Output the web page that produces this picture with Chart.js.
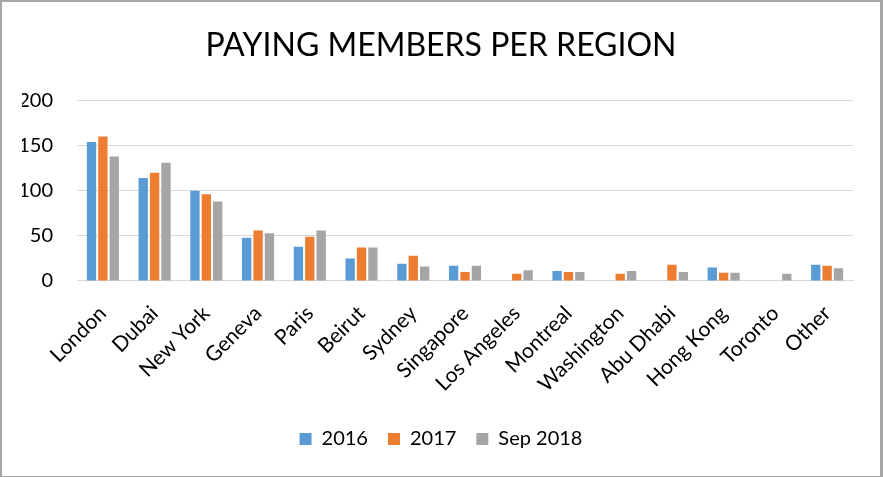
<!DOCTYPE html>
<html>
<head>
<meta charset="utf-8">
<script src="https://cdn.jsdelivr.net/npm/chart.js@4"></script>
<style>
  html, body { margin: 0; padding: 0; background: #fff; }
  .wrap {
    position: relative; width: 883px; height: 477px; box-sizing: border-box;
    border-style: solid; border-color: #a6a6a6; border-width: 2px 3px 1px 2px;
  }
  canvas { display: block; }
</style>
</head>
<body>
<div class="wrap"><canvas id="chart"></canvas></div>
<script>
// ===== Paying members per region =====
const REGIONS = ["London", "Dubai", "New York", "Geneva", "Paris", "Beirut", "Sydney",
  "Singapore", "Los Angeles", "Montreal", "Washington", "Abu Dhabi", "Hong Kong", "Toronto", "Other"];
const Y2016 = [154, 114, 100, 48, 38, 25, 19, 17, null, 11, null, null, 15, null, 18];
const Y2017 = [160, 120, 96, 56, 49, 37, 28, 10, 8, 10, 8, 18, 9, null, 17];
const SEP2018 = [138, 131, 88, 53, 56, 37, 16, 17, 12, 10, 11, 10, 9, 8, 14];
const Y_TICKS = [0, 50, 100, 150, 200];

const BLUE = "#5b9bd5", ORANGE = "#ed7d31", GRAY = "#a5a5a5", GRID = "#d9d9d9", TXT = "#000";
const FONT = "Lato, 'Open Sans', sans-serif";

Chart.defaults.font.family = FONT;
Chart.defaults.color = TXT;

const ds = (label, data, color) => ({
  label, data, backgroundColor: color, borderWidth: 0,
  categoryPercentage: 0.66, barPercentage: 0.82
});

new Chart(document.getElementById("chart"), {
  type: "bar",
  data: {
    labels: REGIONS,
    datasets: [ds("2016", Y2016, BLUE), ds("2017", Y2017, ORANGE), ds("Sep 2018", SEP2018, GRAY)]
  },
  options: {
    responsive: true, maintainAspectRatio: false, animation: false,
    layout: { padding: { left: 20, right: 20, top: 14, bottom: 17 } },
    plugins: {
      title: {
        display: true, text: "PAYING MEMBERS PER REGION", color: TXT,
        font: { size: 32, weight: "normal" }, padding: { top: 10, bottom: 36 }
      },
      legend: {
        position: "bottom",
        labels: { boxWidth: 12, boxHeight: 12, padding: 20, color: TXT, font: { size: 20 } }
      },
      tooltip: { enabled: false }
    },
    scales: {
      x: {
        grid: { display: false },
        border: { color: GRID, width: 1 },
        ticks: { color: TXT, font: { size: 21 }, minRotation: 45, maxRotation: 45, padding: 12, autoSkip: false }
      },
      y: {
        min: 0, max: 200,
        afterBuildTicks: s => { s.ticks = Y_TICKS.map(v => ({ value: v })); },
        afterFit: s => { s.width = 55; },
        grid: { color: GRID, lineWidth: 1, drawTicks: false },
        border: { display: false },
        ticks: { color: TXT, font: { size: 20 }, padding: 24 }
      },
      // empty right-hand spacer so the plot ends where the original does
      yRight: {
        position: "right", min: 0, max: 200,
        afterFit: s => { s.width = 7; },
        grid: { display: false }, border: { display: false }, ticks: { display: false }
      }
    }
  }
});
</script>
</body>
</html>
